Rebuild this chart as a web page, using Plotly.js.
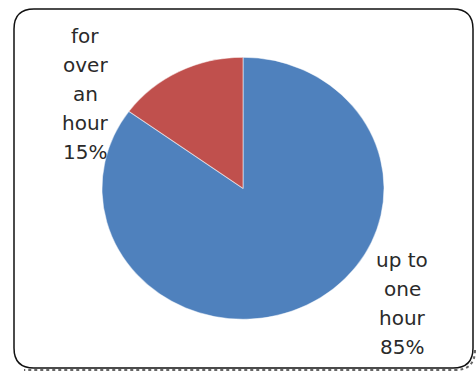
<!DOCTYPE html>
<html>
<head>
<meta charset="utf-8">
<script src="https://cdn.plot.ly/plotly-3.0.1.min.js"></script>
<style>
html,body{margin:0;padding:0;background:#fff;}
#chart{width:476px;height:371px;}
</style>
</head>
<body>
<div id="chart"></div>
<script>
// Data
var labels = ["up to one hour", "for over an hour"];
var values = [85, 15];
var colors = ["#4F81BD", "#C0504D"];
var labelLines = [["up to", "one", "hour"], ["for", "over", "an", "hour"]];

var W = 476, H = 371;
function fx(x){ return x / W; }
function fy(y){ return 1 - y / H; }

// pie geometry (pixels)
var cx = 243, cy = 188.3, rv = 131, rh = 141;

var total = values.reduce(function(a,b){return a+b;},0);

var trace = {
  type: "pie",
  labels: labels,
  values: values,
  sort: false,
  direction: "clockwise",
  rotation: 0,
  textinfo: "none",
  hoverinfo: "label+percent",
  showlegend: false,
  marker: { colors: colors, line: { color: "rgba(255,255,255,0.5)", width: 1 } },
  domain: { x: [fx(cx - rv), fx(cx + rv)], y: [fy(cy + rv), fy(cy - rv)] }
};

// label block positions (pixels): center x, first line y
var labelPos = [ {x: 402, y: 260}, {x: 85, y: 36} ];
var lineGap = 29;
var annotations = [];
labels.forEach(function(l, i){
  var lines = labelLines[i].concat([Math.round(values[i] / total * 100) + "%"]);
  lines.forEach(function(t, j){
    annotations.push({
      xref: "paper", yref: "paper",
      x: fx(labelPos[i].x), y: fy(labelPos[i].y + j * lineGap),
      xanchor: "center", yanchor: "middle",
      text: t, showarrow: false,
      font: { family: "DejaVu Sans, Verdana, sans-serif", size: 20, color: "#2a2a2a" }
    });
  });
});

// rounded border
var L = 14, R = 473, T = 9, B = 368, r = 20;
function P(x, y){ return fx(x) + "," + fy(y); }
var borderPath = "M" + P(L + r, T) + " L" + P(R - r, T) + " Q" + P(R, T) + " " + P(R, T + r) +
  " L" + P(R, B - r) + " Q" + P(R, B) + " " + P(R - r, B) +
  " L" + P(L + r, B) + " Q" + P(L, B) + " " + P(L, B - r) +
  " L" + P(L, T + r) + " Q" + P(L, T) + " " + P(L + r, T) + " Z";
var o = 2;
var shadowPath = "M" + P(R + o, B - r + o) + " Q" + P(R + o, B + o) + " " + P(R - r + o, B + o) +
  " L" + P(L + 8 + o, B + o);

var layout = {
  width: W, height: H,
  margin: { l: 0, r: 0, t: 0, b: 0 },
  paper_bgcolor: "#fff",
  annotations: annotations,
  shapes: [
    { type: "path", xref: "paper", yref: "paper", path: shadowPath,
      line: { color: "#666", width: 2, dash: "dot" } },
    { type: "path", xref: "paper", yref: "paper", path: borderPath,
      line: { color: "#111", width: 1.5 } }
  ]
};

Plotly.newPlot("chart", [trace], layout, { displayModeBar: false, staticPlot: true }).then(function(gd){
  // stretch the pie horizontally to match the elliptical original
  var s = rh / rv;
  var g = gd.querySelector(".pielayer");
  if (g) {
    var prev = g.getAttribute("transform") || "";
    g.setAttribute("transform", "translate(" + cx + ",0) scale(" + s + ",1) translate(" + (-cx) + ",0) " + prev);
  }
});
</script>
</body>
</html>
